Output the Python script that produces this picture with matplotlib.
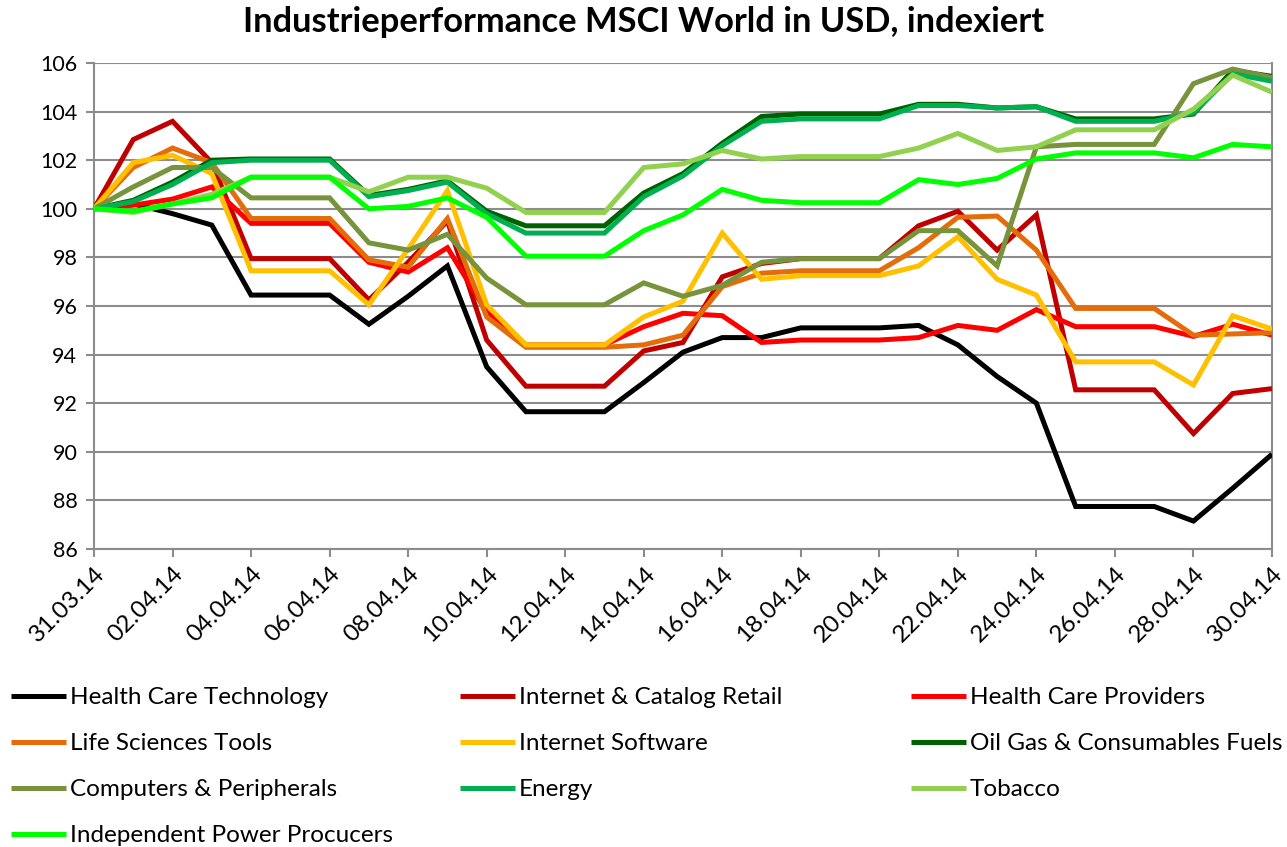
import matplotlib
matplotlib.use("Agg")
import matplotlib.pyplot as plt

plt.rcParams['font.family'] = ['Lato', 'DejaVu Sans']

dates = ["31.03.14", "01.04.14", "02.04.14", "03.04.14", "04.04.14", "05.04.14", "06.04.14",
         "07.04.14", "08.04.14", "09.04.14", "10.04.14", "11.04.14", "12.04.14", "13.04.14",
         "14.04.14", "15.04.14", "16.04.14", "17.04.14", "18.04.14", "19.04.14", "20.04.14",
         "21.04.14", "22.04.14", "23.04.14", "24.04.14", "25.04.14", "26.04.14", "27.04.14",
         "28.04.14", "29.04.14", "30.04.14"]

health_care_technology = [100, 100.2, 99.8, 99.33, 96.45, 96.45, 96.45, 95.25, 96.4, 97.65,
                          93.5, 91.65, 91.65, 91.65, 92.85, 94.1, 94.7, 94.7, 95.1, 95.1, 95.1,
                          95.2, 94.4, 93.1, 92.0, 87.75, 87.75, 87.75, 87.15, 88.5, 89.9]
internet_catalog_retail = [100, 102.85, 103.6, 101.9, 97.95, 97.95, 97.95, 96.25, 97.8, 99.5,
                           94.6, 92.7, 92.7, 92.7, 94.15, 94.5, 97.2, 97.75, 97.95, 97.95, 97.95,
                           99.3, 99.9, 98.3, 99.75, 92.55, 92.55, 92.55, 90.75, 92.4, 92.6]
health_care_providers = [100, 100.15, 100.4, 100.9, 99.4, 99.4, 99.4, 97.8, 97.4, 98.4,
                         95.75, 94.4, 94.4, 94.4, 95.15, 95.7, 95.6, 94.5, 94.6, 94.6, 94.6,
                         94.7, 95.2, 95.0, 95.85, 95.15, 95.15, 95.15, 94.75, 95.25, 94.8]
life_sciences_tools = [100, 101.7, 102.5, 101.9, 99.6, 99.6, 99.6, 97.9, 97.6, 99.6,
                       95.55, 94.3, 94.3, 94.3, 94.4, 94.8, 96.8, 97.35, 97.45, 97.45, 97.45,
                       98.4, 99.65, 99.7, 98.3, 95.9, 95.9, 95.9, 94.8, 94.85, 94.9]
internet_software = [100, 101.9, 102.2, 101.45, 97.45, 97.45, 97.45, 96.05, 98.35, 100.75,
                     96.05, 94.4, 94.4, 94.4, 95.55, 96.2, 99.0, 97.1, 97.25, 97.25, 97.25,
                     97.65, 98.85, 97.1, 96.45, 93.7, 93.7, 93.7, 92.75, 95.6, 95.05]
oil_gas_fuels = [100, 100.35, 101.1, 102.0, 102.05, 102.05, 102.05, 100.55, 100.8, 101.15,
                 99.9, 99.3, 99.3, 99.3, 100.65, 101.45, 102.7, 103.8, 103.9, 103.9, 103.9,
                 104.3, 104.3, 104.15, 104.2, 103.7, 103.7, 103.7, 103.9, 105.7, 105.45]
computers_peripherals = [100, 100.9, 101.7, 101.7, 100.45, 100.45, 100.45, 98.6, 98.3, 98.95,
                         97.15, 96.05, 96.05, 96.05, 96.95, 96.4, 96.85, 97.8, 97.95, 97.95, 97.95,
                         99.1, 99.1, 97.65, 102.55, 102.65, 102.65, 102.65, 105.15, 105.75, 105.4]
energy = [100, 100.3, 101.0, 101.9, 102.0, 102.0, 102.0, 100.5, 100.75, 101.1,
          99.8, 99.0, 99.0, 99.0, 100.5, 101.35, 102.6, 103.6, 103.7, 103.7, 103.7,
          104.25, 104.25, 104.15, 104.2, 103.6, 103.6, 103.6, 103.95, 105.55, 105.25]
tobacco = [100, 99.85, 100.2, 100.6, 101.3, 101.3, 101.3, 100.7, 101.3, 101.3,
           100.85, 99.85, 99.85, 99.85, 101.7, 101.85, 102.4, 102.05, 102.15, 102.15, 102.15,
           102.5, 103.1, 102.4, 102.55, 103.25, 103.25, 103.25, 104.1, 105.5, 104.8]
independent_power = [100, 99.9, 100.2, 100.45, 101.3, 101.3, 101.3, 100.0, 100.1, 100.45,
                     99.65, 98.05, 98.05, 98.05, 99.1, 99.75, 100.8, 100.35, 100.25, 100.25, 100.25,
                     101.2, 101.0, 101.25, 102.05, 102.3, 102.3, 102.3, 102.1, 102.65, 102.55]

series_names = ["Health Care Technology", "Internet & Catalog Retail", "Health Care Providers",
                "Life Sciences Tools", "Internet Software", "Oil Gas & Consumables Fuels",
                "Computers & Peripherals", "Energy", "Tobacco", "Independent Power Procucers"]
series_values = [health_care_technology, internet_catalog_retail, health_care_providers,
                 life_sciences_tools, internet_software, oil_gas_fuels,
                 computers_peripherals, energy, tobacco, independent_power]
colors = ["#000000", "#C00000", "#FF0000", "#E46C0A", "#FFC000", "#006100",
          "#77933C", "#00B050", "#92D050", "#00FF00"]

W, H = 1287, 847
fig = plt.figure(figsize=(W / 100, H / 100), dpi=100)
ax = fig.add_axes([94 / W, 1 - 549 / H, (1272 - 94) / W, (549 - 63) / H])

x = list(range(len(dates)))
handles = []
for name, vals, c in zip(series_names, series_values, colors):
    h, = ax.plot(x, vals, color=c, lw=3.6, solid_joinstyle='miter', solid_capstyle='butt',
                 label=name, zorder=3)
    handles.append(h)

ax.set_xlim(0, len(dates) - 1)
ax.set_ylim(86, 106)
ax.set_yticks(range(86, 107, 2))
ax.set_xticks(x[::2])
ax.set_xticklabels(dates[::2], rotation=45, ha='right', va='top', rotation_mode='anchor',
                   fontsize=17.5)
for lab in ax.get_yticklabels():
    lab.set_fontsize(15.5)
ax.yaxis.grid(True, color='#8C8C8C', lw=1.5, zorder=1)
for side in ['left', 'bottom', 'right']:
    ax.spines[side].set_color('#8C8C8C')
    ax.spines[side].set_linewidth(1.5)
ax.spines['top'].set_visible(False)
ax.tick_params(axis='both', colors='#8C8C8C', length=6, width=1.5, labelcolor='black')
ax.tick_params(axis='y', pad=6)
ax.tick_params(axis='x', pad=4)

fig.text(0.5, 1 - 22 / H, "Industrieperformance MSCI World in USD, indexiert",
         ha='center', va='center', fontsize=24.8, fontweight='bold')

# legend laid out in three columns
cols = [[0, 3, 6, 9], [1, 4, 7], [2, 5, 8]]
col_x = [11, 460, 911]
for cx, idxs in zip(col_x, cols):
    fig.legend([handles[i] for i in idxs], [series_names[i] for i in idxs],
               loc='upper left', bbox_to_anchor=(cx / W, 1 - 687 / H),
               frameon=False, fontsize=17.5, handlelength=2.26, handletextpad=0.17,
               labelspacing=1.03, borderaxespad=0, borderpad=0)

fig.savefig("out.png", dpi=100)
